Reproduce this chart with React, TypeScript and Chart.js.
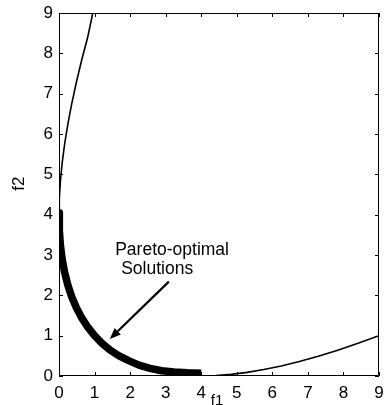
import React, { useEffect, useRef } from "react";
import { Chart, registerables } from "chart.js";

Chart.register(...registerables);

// Full trade-off curve (f1, f2)
const curveF1 = [0.95, 0.81, 0.64, 0.49, 0.36, 0.25, 0.16, 0.09, 0.04, 0.01, 0.0, 0.01, 0.04, 0.09, 0.16, 0.25, 0.36, 0.49, 0.64, 0.81, 1.0, 1.21, 1.44, 1.69, 1.96, 2.25, 2.56, 2.89, 3.24, 3.61, 4.0, 4.41, 4.84, 5.29, 5.76, 6.25, 6.76, 7.29, 7.84, 8.41, 9.0];
const curveF2 = [9.0, 8.41, 7.84, 7.29, 6.76, 6.25, 5.76, 5.29, 4.84, 4.41, 4.0, 3.61, 3.24, 2.89, 2.56, 2.25, 1.96, 1.69, 1.44, 1.21, 1.0, 0.81, 0.64, 0.49, 0.36, 0.25, 0.16, 0.09, 0.04, 0.01, 0.0, 0.01, 0.04, 0.09, 0.16, 0.25, 0.36, 0.49, 0.64, 0.81, 1.0];

// Pareto-optimal front (thick)
const paretoF1 = [0.0, 0.01, 0.04, 0.09, 0.16, 0.25, 0.36, 0.49, 0.64, 0.81, 1.0, 1.21, 1.44, 1.69, 1.96, 2.25, 2.56, 2.89, 3.24, 3.61, 4.0];
const paretoF2 = [4.05, 3.61, 3.24, 2.89, 2.56, 2.25, 1.96, 1.69, 1.44, 1.21, 1.0, 0.81, 0.64, 0.5, 0.38, 0.27, 0.19, 0.13, 0.1, 0.08, 0.07];

const xTicks = [0, 1, 2, 3, 4, 5, 6, 7, 8, 9];
const yTicks = [0, 1, 2, 3, 4, 5, 6, 7, 8, 9];

const annotationLines = ["Pareto-optimal", "Solutions"];
const annotationF1 = [3.18, 2.76];
const annotationF2 = [3.13, 2.66];
const arrowTail = [3.09, 2.34];
const arrowTip = [1.43, 0.92];

const FONT = "'Liberation Sans', Arial, Helvetica, sans-serif";

const decorPlugin = {
  id: "decor",
  afterDatasetsDraw(chart: any) {
    const { ctx, chartArea, scales } = chart;
    const xs = scales.x;
    const ys = scales.y;
    const { left, right, top, bottom } = chartArea;
    ctx.save();
    ctx.strokeStyle = "#000";
    ctx.lineWidth = 1;
    // box
    ctx.beginPath();
    ctx.rect(left + 0.5, top + 0.5, right - left - 1, bottom - top - 1);
    ctx.stroke();
    // inward ticks
    const tl = 4;
    ctx.beginPath();
    xTicks.forEach((v) => {
      const px = Math.round(xs.getPixelForValue(v)) + 0.5;
      ctx.moveTo(px, bottom);
      ctx.lineTo(px, bottom - tl);
      ctx.moveTo(px, top);
      ctx.lineTo(px, top + tl);
    });
    yTicks.forEach((v) => {
      const py = Math.round(ys.getPixelForValue(v)) + 0.5;
      ctx.moveTo(left, py);
      ctx.lineTo(left + tl, py);
      ctx.moveTo(right, py);
      ctx.lineTo(right - tl, py);
    });
    ctx.stroke();

    // arrow
    const tx = xs.getPixelForValue(arrowTail[0]);
    const ty = ys.getPixelForValue(arrowTail[1]);
    const hx = xs.getPixelForValue(arrowTip[0]);
    const hy = ys.getPixelForValue(arrowTip[1]);
    const ang = Math.atan2(hy - ty, hx - tx);
    const hl = 11;
    const hw = 4.5;
    const bx = hx - hl * Math.cos(ang);
    const by = hy - hl * Math.sin(ang);
    ctx.lineWidth = 2.2;
    ctx.beginPath();
    ctx.moveTo(tx, ty);
    ctx.lineTo(bx, by);
    ctx.stroke();
    ctx.fillStyle = "#000";
    ctx.beginPath();
    ctx.moveTo(hx, hy);
    ctx.lineTo(bx + hw * Math.sin(ang), by - hw * Math.cos(ang));
    ctx.lineTo(bx - hw * Math.sin(ang), by + hw * Math.cos(ang));
    ctx.closePath();
    ctx.fill();

    // annotation text
    ctx.font = `17.5px ${FONT}`;
    ctx.textAlign = "center";
    ctx.textBaseline = "middle";
    annotationLines.forEach((t, i) => {
      ctx.fillText(t, xs.getPixelForValue(annotationF1[i]), ys.getPixelForValue(annotationF2[i]));
    });

    // axis titles
    ctx.font = `15px ${FONT}`;
    ctx.fillText("f1", (left + right) / 2 - 2, bottom + 25);
    ctx.save();
    ctx.translate(left - 40, top + (bottom - top) * 0.47);
    ctx.rotate(-Math.PI / 2);
    ctx.font = `17px ${FONT}`;
    ctx.fillText("f2", 0, 0);
    ctx.restore();
    ctx.restore();
  },
};

export default function App() {
  const ref = useRef<HTMLCanvasElement>(null);
  useEffect(() => {
    if (!ref.current) return;
    const curve = curveF1.map((x, i) => ({ x, y: curveF2[i] }));
    const pareto = paretoF1.map((x, i) => ({ x, y: paretoF2[i] }));
    const chart = new Chart(ref.current, {
      type: "scatter",
      data: {
        datasets: [
          {
            data: pareto,
            showLine: true,
            borderColor: "#000",
            borderWidth: 7.5,
            pointRadius: 0,
            tension: 0,
            borderCapStyle: "butt",
            borderJoinStyle: "round",
          } as any,
          {
            data: curve,
            showLine: true,
            borderColor: "#000",
            borderWidth: 1.6,
            pointRadius: 0,
            tension: 0,
          } as any,
        ],
      },
      options: {
        responsive: false,
        animation: false,
        events: [],
        layout: { padding: { left: 0, top: 13, right: 6, bottom: 0 } },
        plugins: {
          legend: { display: false },
          tooltip: { enabled: false },
        },
        scales: {
          x: {
            type: "linear",
            min: 0,
            max: 9,
            grid: { display: false, drawTicks: false },
            border: { display: false },
            ticks: {
              stepSize: 1,
              color: "#000",
              padding: 7,
              font: { family: FONT, size: 17 },
            },
            afterFit: (s: any) => {
              s.height = 29;
              s.paddingLeft = 0;
              s.paddingRight = 0;
            },
          },
          y: {
            type: "linear",
            min: 0,
            max: 9,
            grid: { display: false, drawTicks: false },
            border: { display: false },
            ticks: {
              stepSize: 1,
              color: "#000",
              padding: 6,
              font: { family: FONT, size: 17 },
            },
            afterFit: (s: any) => {
              s.width = 59;
              s.paddingTop = 0;
              s.paddingBottom = 0;
            },
          },
        },
      },
      plugins: [decorPlugin],
    });
    return () => chart.destroy();
  }, []);
  return (
    <div style={{ position: "fixed", left: 0, top: 0, width: 385, height: 405, background: "#fff" }}>
      <canvas ref={ref} width={385} height={405} />
    </div>
  );
}
